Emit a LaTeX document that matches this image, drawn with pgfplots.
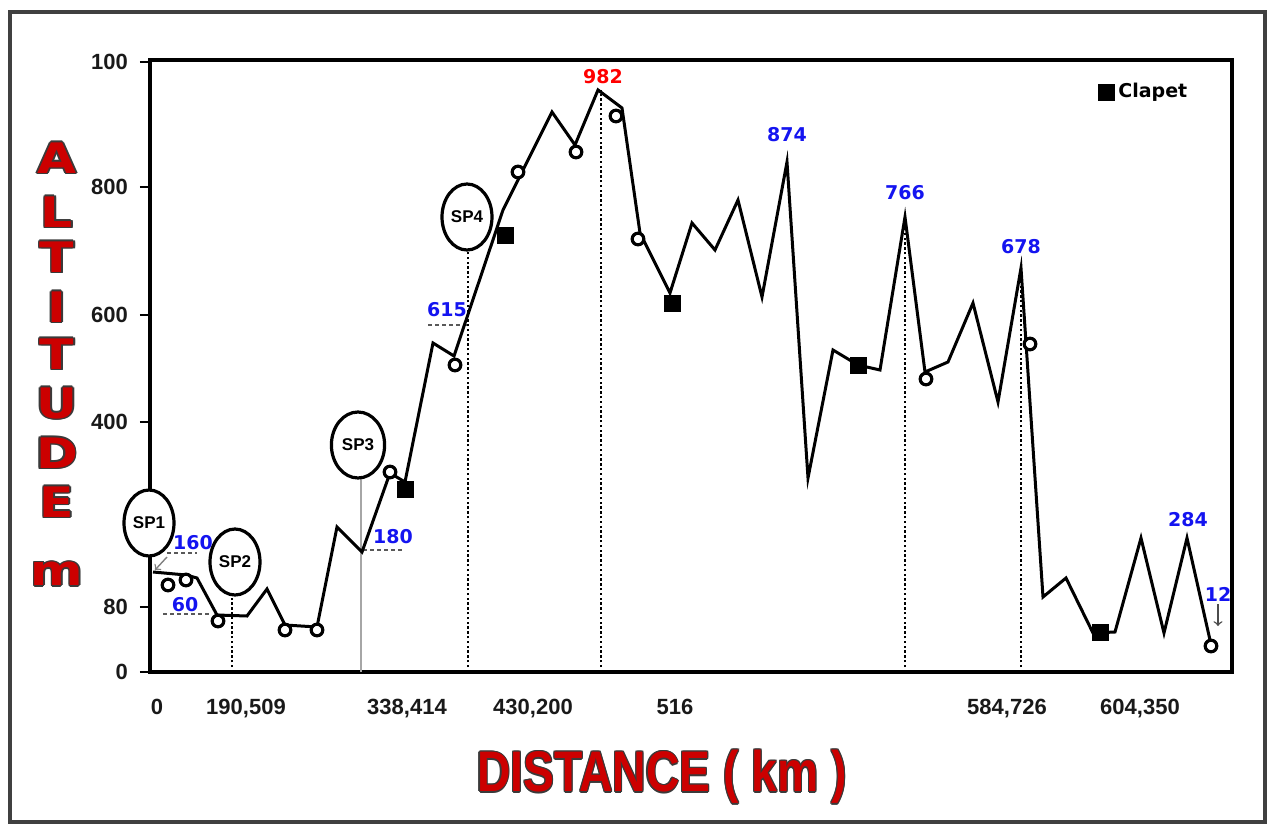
\documentclass[border=0pt]{standalone}
\usepackage{pgfplots}
\pgfplotsset{compat=1.18}
\usepackage{fontspec}
\setmainfont{Liberation Sans}
\newfontfamily\dvs{DejaVu Sans}
\definecolor{deepred}{HTML}{CC0000}
\definecolor{lblue}{HTML}{1414F0}
\definecolor{edge}{HTML}{3A3A3A}

% outlined red text: #1 coordinate, #2 node options, #3 text
\newcommand\outl[3]{%
  \foreach \dx/\dy in {-0.7/0,0.7/0,0/-0.7,0/0.7,0.5/0.5,-0.5/-0.5,0.5/-0.5,-0.5/0.5}
    {\node[#2, text=edge, xshift=\dx pt, yshift=\dy pt] at #1 {#3};}
  \node[#2, text=deepred] at #1 {#3};}

\newcommand\lab{\dvs\bfseries\fontsize{9.5}{10}\selectfont}
\newcommand\spfont{\fontsize{8.5}{9}\selectfont\bfseries}

\begin{document}
\begin{tikzpicture}
\useasboundingbox (0,0) rectangle (635.5pt,413.5pt);

\begin{axis}[
  at={(75pt,77.5pt)}, anchor=south west, scale only axis,
  width=541pt, height=306pt,
  xmin=0, xmax=1082, ymin=0, ymax=612,
  axis line style={line width=1.8pt},
  clip=false,
  xtick={7,96,257,383,525,857,990},
  xticklabels={0,{190,509},{338,414},{430,200},516,{584,726},{604,350}},
  ytick={0,65,250,357,485,610},
  yticklabels={0,80,400,600,800,100},
  xtick style={draw=none},
  ytick style={line width=1.4pt, black},
  xtick pos=bottom, ytick pos=left,
  tick align=outside, major tick length=5pt,
  ticklabel style={font=\fontsize{11}{12}\selectfont\bfseries, text=black!90},
  xticklabel style={yshift=-5pt},
  yticklabel style={xshift=-2.5pt},
  legend style={draw=none, fill=none, at={(axis cs:942,580)}, anchor=west,
    font={\dvs\bfseries\fontsize{9.5}{11}\selectfont}},
]

% dotted markers of the stations
\addplot[forget plot, line width=1.3pt, dash pattern=on 1.2pt off 1.2pt] coordinates {(82,0) (82,79)};
\addplot[forget plot, line width=1.3pt, dash pattern=on 1.2pt off 1.2pt] coordinates {(318,0) (318,422)};
\addplot[forget plot, line width=1.3pt, dash pattern=on 1.2pt off 1.2pt] coordinates {(451,0) (451,582)};
\addplot[forget plot, line width=1.3pt, dash pattern=on 1.2pt off 1.2pt] coordinates {(755,0) (755,455)};
\addplot[forget plot, line width=1.3pt, dash pattern=on 1.2pt off 1.2pt] coordinates {(871,0) (871,404)};
\addplot[forget plot, gray!70, line width=0.8pt] coordinates {(211,0) (211,194)};

% short dashed level marks
\addplot[forget plot, black!65, line width=1pt, dash pattern=on 2pt off 1.5pt] coordinates {(17,119) (47,119)};
\addplot[forget plot, black!65, line width=1pt, dash pattern=on 2pt off 1.5pt] coordinates {(13,58) (62,58)};
\addplot[forget plot, black!65, line width=1pt, dash pattern=on 2pt off 1.5pt] coordinates {(213,122) (253,122)};
\addplot[forget plot, black!65, line width=1pt, dash pattern=on 2pt off 1.5pt] coordinates {(278,347) (318,347)};

% profile
\addplot[forget plot, black, line width=1.5pt, line join=miter] coordinates {
  (3,100) (36,97) (47,94) (67,57) (97,56) (117,83) (135,47) (167,45)
  (187,145) (212,120) (240,199) (255,190) (283,329) (304,316) (353,462)
  (402,560) (425,527) (448,582) (472,564) (490,439) (520,379) (542,449)
  (565,422) (588,472) (612,375) (637,510) (658,194) (683,322) (708,307)
  (730,302) (755,455) (775,300) (798,310) (823,369) (848,270) (871,404)
  (893,75) (916,94) (943,39) (965,40) (991,134) (1014,39) (1037,134)
  (1060,32)
};

% circles
\addplot[forget plot, only marks, mark=*, mark size=2.9pt,
  mark options={fill=white, draw=black, line width=1.6pt}] coordinates {
  (18,87) (36,92) (68,51) (135,42) (167,42) (240,200) (305,307) (368,500)
  (426,520) (466,556) (488,433) (776,293) (880,328) (1061,26)
};

% clapets
\addplot[only marks, mark=square*, mark size=4pt, black] coordinates {
  (255,183) (355,437) (522,369) (708,307) (950,40)
};
\addlegendentry{Clapet}

% stations
\draw[line width=1.6pt, fill=white] (axis cs:-1,149) ellipse [x radius=12.5pt, y radius=16.5pt];
\node[font=\spfont] at (axis cs:-1,149) {SP1};
\draw[line width=1.6pt, fill=white] (axis cs:85,110) ellipse [x radius=12.5pt, y radius=16.5pt];
\node[font=\spfont] at (axis cs:85,110) {SP2};
\draw[line width=1.6pt, fill=white] (axis cs:208,227) ellipse [x radius=13.3pt, y radius=16.5pt];
\node[font=\spfont] at (axis cs:208,227) {SP3};
\draw[line width=1.6pt, fill=white] (axis cs:317,455) ellipse [x radius=12.5pt, y radius=16.5pt];
\node[font=\spfont] at (axis cs:317,455) {SP4};

\draw[->, gray, line width=0.7pt] (axis cs:17,115) -- (axis cs:5,102);
\draw[->, black!70, line width=0.7pt] (axis cs:1068,68) -- (axis cs:1068,46);

\node[font=\lab, text=lblue] at (axis cs:43,129) {160};
\node[font=\lab, text=lblue] at (axis cs:35,67) {60};
\node[font=\lab, text=lblue] at (axis cs:243,135) {180};
\node[font=\lab, text=lblue] at (axis cs:297,362) {615};
\node[font=\lab, text=red] at (axis cs:453,595) {982};
\node[font=\lab, text=lblue] at (axis cs:637,537) {874};
\node[font=\lab, text=lblue] at (axis cs:755,479) {766};
\node[font=\lab, text=lblue] at (axis cs:871,425) {678};
\node[font=\lab, text=lblue] at (axis cs:1038,152) {284};
\node[font=\lab, text=lblue] at (axis cs:1068,78) {12};
\end{axis}

\begin{scope}[x=0.5pt, y=-0.5pt, yshift=413.5pt]
  \draw[line width=1.8pt, black!75] (10,12) rectangle (1265,822);
  \foreach \ch/\yy in {A/158, L/212, T/257, I/307, T/354, U/403, D/453, E/502, m/574}{
    \outl{(57,\yy)}{font={\dvs\bfseries\fontsize{21}{21}\selectfont}, xscale=1.2}{\ch}
  }
  \outl{(662,777)}{font={\bfseries\fontsize{28.6}{30}\selectfont}, xscale=0.81}{DISTANCE ( km )}
\end{scope}
\end{tikzpicture}
\end{document}
